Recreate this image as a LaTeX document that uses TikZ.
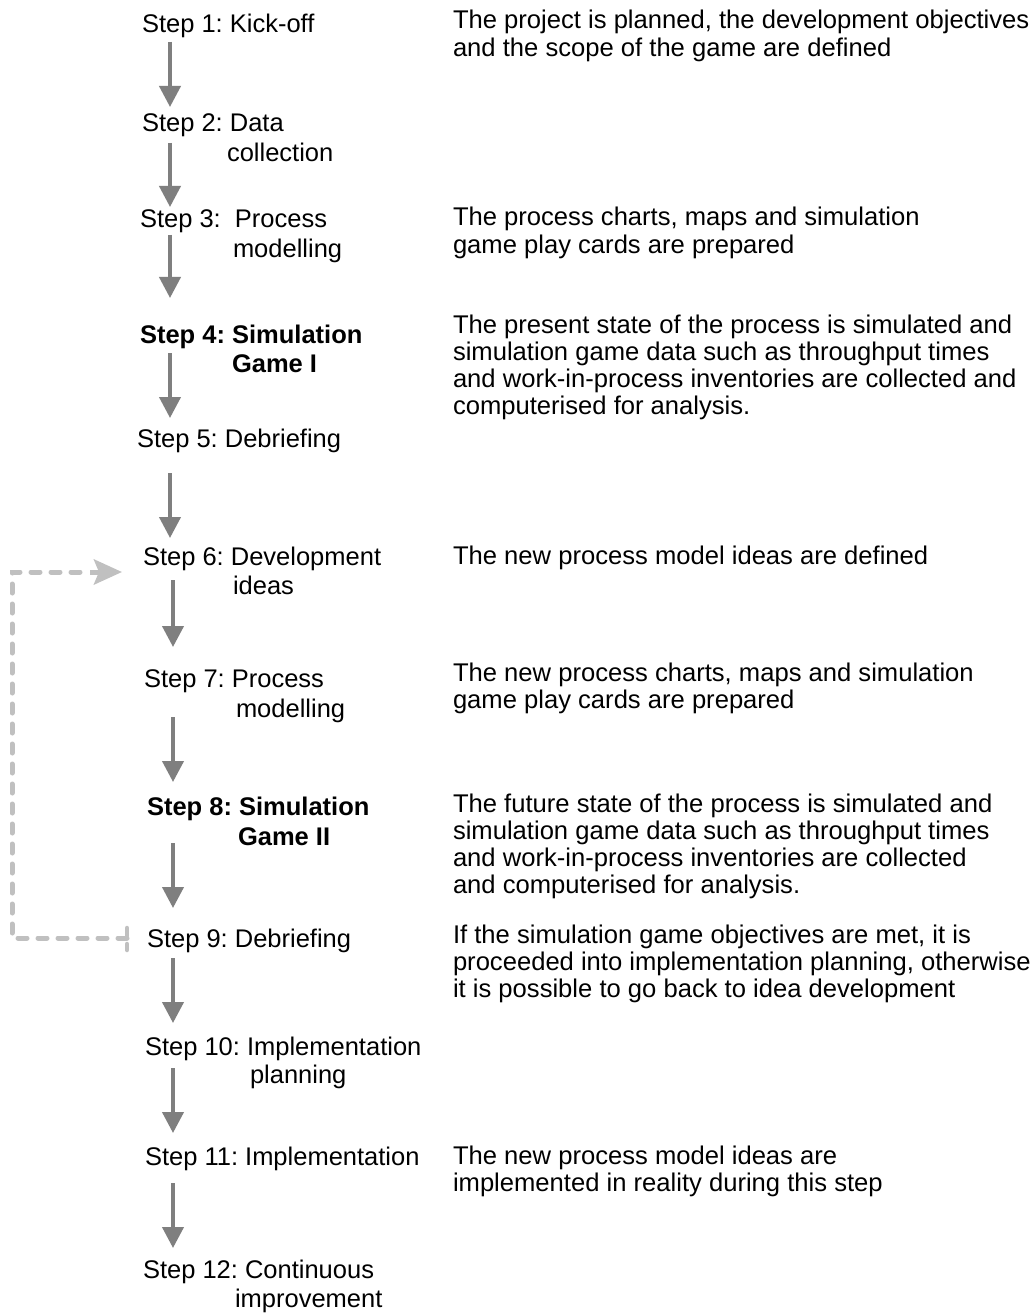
\documentclass[tikz,border=0pt]{standalone}
\usepackage{fontspec}
\setmainfont{Liberation Sans}
\usetikzlibrary{arrows.meta,calc}
\frenchspacing

\definecolor{arrowgray}{RGB}{127,127,127}
\definecolor{loopgray}{RGB}{192,192,192}

% stacked lines whose baseline is that of the first line
\newcommand\textline[1]{\hbox{#1}}
\newcommand\stacked[2]{\vtop{\baselineskip=#1\lineskiplimit=-50pt #2}}
\newcommand\stepfont{\fontsize{25.5}{29.5}\selectfont}
\newcommand\descfont{\fontsize{25.6}{27.3}\selectfont}

\tikzset{
  steptext/.style={anchor=base west, inner sep=0pt, outer sep=0pt, font=\stepfont},
  desctext/.style={anchor=base west, inner sep=0pt, outer sep=0pt, font=\descfont},
  flow/.style={draw=arrowgray, line width=4pt, -{Triangle[width=21pt,length=21pt]}},
  feedback/.style={draw=loopgray, line width=5pt, line cap=round,
    dash pattern=on 9pt off 11pt},
  feedbacktip/.style={draw=loopgray, line width=5pt,
    -{Stealth[width=25pt,length=28pt,inset=5pt]}},
  feedbackstub/.style={draw=loopgray, line width=4.5pt, line cap=round,
    dash pattern=on 8pt off 8pt},
}

\begin{document}
\begin{tikzpicture}[x=1pt,y=-1pt]
\useasboundingbox (0,0) rectangle (1033,1313);
\fill[white] (0,0) rectangle (1033,1313);

% ---- steps (left column)
\node[steptext] (s1) at (142,33) {Step 1: Kick-off};
\node[steptext] (s2) at (142,132) {\stacked{29.5pt}{\textline{Step 2: Data}\textline{\hspace*{85pt}collection}}};
\node[steptext] (s3) at (140,228) {\stacked{30pt}{\textline{Step 3:\ \ Process}\textline{\hspace*{93pt}modelling}}};
\node[steptext] (s4) at (140,343) {\bfseries\stacked{29pt}{\textline{Step 4: Simulation}\textline{\hspace*{92pt}Game I}}};
\node[steptext] (s5) at (137,447) {Step 5: Debriefing};
\node[steptext] (s6) at (143,565) {\stacked{29pt}{\textline{Step 6: Development}\textline{\hspace*{90pt}ideas}}};
\node[steptext] (s7) at (144,687) {\stacked{30pt}{\textline{Step 7: Process}\textline{\hspace*{92pt}modelling}}};
\node[steptext] (s8) at (147,815) {\bfseries\stacked{30pt}{\textline{Step 8: Simulation}\textline{\hspace*{91pt}Game II}}};
\node[steptext] (s9) at (147,947) {Step 9: Debriefing};
\node[steptext] (s10) at (145,1055) {\stacked{28pt}{\textline{Step 10: Implementation}\textline{\hspace*{105pt}planning}}};
\node[steptext] (s11) at (145,1165) {Step 11: Implementation};
\node[steptext] (s12) at (143,1278) {\stacked{29pt}{\textline{Step 12: Continuous}\textline{\hspace*{92pt}improvement}}};

% ---- descriptions (right column)
\node[desctext] (d1) at (453,29) {\stacked{27.3pt}{%
  \textline{The project is planned, the development objectives}%
  \textline{and the scope of the game are defined}}};
\node[desctext] (d3) at (453,226) {\stacked{27.3pt}{%
  \textline{The process charts, maps and simulation}%
  \textline{game play cards are prepared}}};
\node[desctext] (d4) at (453,333) {\stacked{27.3pt}{%
  \textline{The present state of the process is simulated and}%
  \textline{simulation game data such as throughput times}%
  \textline{and work-in-process inventories are collected and}%
  \textline{computerised for analysis.}}};
\node[desctext] (d6) at (453,564) {The new process model ideas are defined};
\node[desctext] (d7) at (453,681) {\stacked{27.3pt}{%
  \textline{The new process charts, maps and simulation}%
  \textline{game play cards are prepared}}};
\node[desctext] (d8) at (453,812) {\stacked{27.3pt}{%
  \textline{The future state of the process is simulated and}%
  \textline{simulation game data such as throughput times}%
  \textline{and work-in-process inventories are collected}%
  \textline{and computerised for analysis.}}};
\node[desctext] (d9) at (453,943) {\stacked{27.3pt}{%
  \textline{If the simulation game objectives are met, it is}%
  \textline{proceeded into implementation planning, otherwise}%
  \textline{it is possible to go back to idea development}}};
\node[desctext] (d11) at (453,1164) {\stacked{27.3pt}{%
  \textline{The new process model ideas are}%
  \textline{implemented in reality during this step}}};

% ---- vertical flow arrows
\coordinate (axisA) at (170,0);
\coordinate (axisB) at (173,0);
\draw[flow] ($(s1.base west -| axisA)+(0,9)$)  -- ($(s2.base west -| axisA)+(0,-25)$);
\draw[flow] ($(s2.base west -| axisA)+(0,11)$) -- ($(s3.base west -| axisA)+(0,-21)$);
\draw[flow] ($(s3.base west -| axisA)+(0,7)$)  -- ($(s4.base west -| axisA)+(0,-45)$);
\draw[flow] ($(s4.base west -| axisA)+(0,10)$) -- ($(s5.base west -| axisA)+(0,-29)$);
\draw[flow] ($(s5.base west -| axisA)+(0,26)$) -- ($(s6.base west -| axisA)+(0,-27)$);
\draw[flow] ($(s6.base west -| axisB)+(0,15)$) -- ($(s7.base west -| axisB)+(0,-40)$);
\draw[flow] ($(s7.base west -| axisB)+(0,30)$) -- ($(s8.base west -| axisB)+(0,-33)$);
\draw[flow] ($(s8.base west -| axisB)+(0,28)$) -- ($(s9.base west -| axisB)+(0,-39)$);
\draw[flow] ($(s9.base west -| axisB)+(0,11)$) -- ($(s10.base west -| axisB)+(0,-32)$);
\draw[flow] ($(s10.base west -| axisB)+(0,13)$) -- ($(s11.base west -| axisB)+(0,-32)$);
\draw[flow] ($(s11.base west -| axisB)+(0,18)$) -- ($(s12.base west -| axisB)+(0,-30)$);

% ---- dashed feedback loop from debriefing back to development ideas
\coordinate (fbout) at ($(s9.base west)+(-20,-9)$);
\coordinate (fbin) at ($(s6.base west)+(-21,7)$);
\coordinate (loopx) at (12,0);
\coordinate (fbhead) at ($(fbin)+(-32,0)$);
\draw[feedbackstub] ($(fbout)+(0,-10)$) -- ($(fbout)+(0,12)$);
\draw[feedback] (fbout) -- (fbout -| loopx) -- (fbin -| loopx) -- (fbhead);
\draw[feedbacktip] (fbhead) -- (fbin);
\end{tikzpicture}
\end{document}
